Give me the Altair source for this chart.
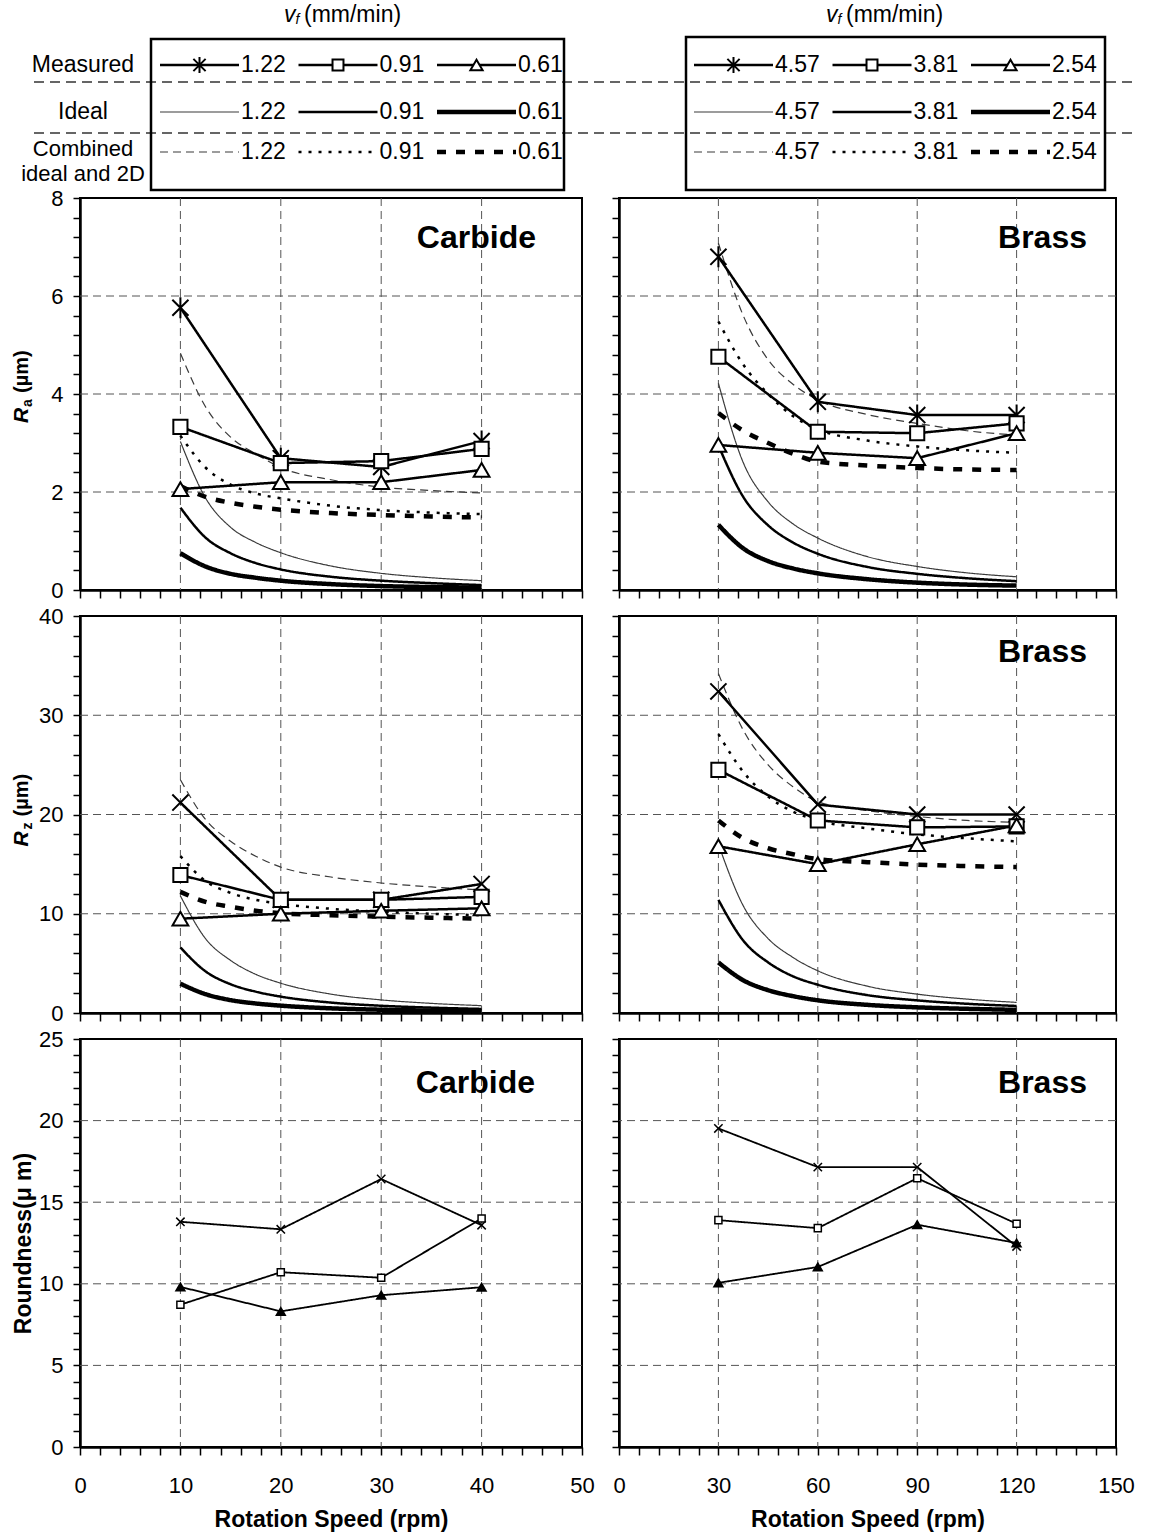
import altair as alt
import pandas as pd

FONT = "Liberation Sans"

# ---------------- data ----------------
carbide_rpm = [10, 20, 30, 40]
brass_rpm = [30, 60, 90, 120]
carbide_curve_rpm = [10, 12.5, 15, 17.5, 20, 25, 30, 35, 40]
brass_curve_rpm = [30, 37.5, 45, 52.5, 60, 75, 90, 105, 120]
carbide_feeds = ["1.22", "0.91", "0.61"]
brass_feeds = ["4.57", "3.81", "2.54"]
row_kinds = ["Measured", "Ideal", "Combined\nideal and 2D"]

# Ra, carbide tool (measured / ideal / combined ideal and 2D), feeds 1.22, 0.91, 0.61
ra_c_meas = [[5.76, 2.69, 2.51, 3.04],
             [3.33, 2.59, 2.63, 2.88],
             [2.06, 2.20, 2.20, 2.45]]
ra_c_ideal = [[3.03, 1.88, 1.28, 0.97, 0.76, 0.49, 0.34, 0.25, 0.19],
              [1.68, 1.07, 0.75, 0.55, 0.42, 0.27, 0.19, 0.14, 0.10],
              [0.75, 0.48, 0.33, 0.25, 0.19, 0.12, 0.08, 0.06, 0.05]]
ra_c_comb = [[4.83, 3.74, 3.12, 2.78, 2.50, 2.25, 2.10, 2.03, 1.98],
             [3.15, 2.50, 2.15, 1.97, 1.87, 1.72, 1.63, 1.58, 1.55],
             [2.12, 1.90, 1.78, 1.70, 1.64, 1.57, 1.53, 1.50, 1.48]]

# Ra, brass tool, feeds 4.57, 3.81, 2.54
ra_b_meas = [[6.80, 3.84, 3.57, 3.57],
             [4.76, 3.23, 3.20, 3.40],
             [2.96, 2.80, 2.69, 3.20]]
ra_b_ideal = [[4.22, 2.60, 1.80, 1.35, 1.06, 0.68, 0.48, 0.35, 0.27],
              [2.95, 1.90, 1.32, 0.97, 0.74, 0.47, 0.33, 0.24, 0.18],
              [1.33, 0.85, 0.59, 0.44, 0.34, 0.22, 0.15, 0.11, 0.09]]
ra_b_comb = [[7.08, 5.60, 4.70, 4.20, 3.88, 3.58, 3.40, 3.25, 3.16],
             [5.48, 4.60, 4.00, 3.55, 3.28, 3.05, 2.93, 2.85, 2.80],
             [3.61, 3.25, 3.00, 2.78, 2.62, 2.54, 2.49, 2.46, 2.45]]

# Rz, carbide tool
rz_c_meas = [[21.2, 11.4, 11.4, 13.0],
             [13.9, 11.4, 11.4, 11.7],
             [9.5, 10.0, 10.3, 10.55]]
rz_c_ideal = [[11.8, 7.5, 5.3, 3.9, 3.0, 1.9, 1.32, 0.97, 0.74],
              [6.6, 4.2, 2.9, 2.15, 1.65, 1.05, 0.73, 0.54, 0.41],
              [2.95, 1.9, 1.3, 0.96, 0.74, 0.47, 0.33, 0.24, 0.18]]
rz_c_comb = [[23.5, 19.5, 17.3, 15.8, 14.7, 13.7, 13.1, 12.7, 12.4],
             [15.8, 13.3, 12.1, 11.4, 11.0, 10.5, 10.2, 10.0, 9.85],
             [12.2, 11.2, 10.7, 10.3, 10.05, 9.85, 9.7, 9.6, 9.5]]

# Rz, brass tool
rz_b_meas = [[32.4, 21.0, 20.0, 20.0],
             [24.5, 19.4, 18.7, 18.8],
             [16.8, 15.0, 17.0, 18.9]]
rz_b_ideal = [[17.0, 10.8, 7.5, 5.6, 4.25, 2.7, 1.9, 1.4, 1.07],
              [11.4, 7.3, 5.1, 3.7, 2.85, 1.8, 1.27, 0.93, 0.71],
              [5.1, 3.3, 2.3, 1.7, 1.28, 0.82, 0.57, 0.42, 0.32]]
rz_b_comb = [[34.2, 28.5, 25.0, 22.8, 21.3, 20.4, 19.8, 19.4, 19.2],
             [28.1, 24.3, 21.8, 20.3, 19.4, 18.6, 18.0, 17.6, 17.3],
             [19.4, 17.6, 16.6, 16.0, 15.5, 15.2, 14.95, 14.8, 14.7]]

# Roundness
rd_c = [[13.8, 13.34, 16.42, 13.59],
        [8.72, 10.71, 10.37, 14.0],
        [9.81, 8.31, 9.30, 9.79]]
rd_b = [[19.52, 17.15, 17.15, 12.29],
        [13.9, 13.41, 16.47, 13.68],
        [10.06, 11.03, 13.62, 12.5]]

# major grid positions
x_grid_carbide = [10, 20, 30, 40]
x_grid_brass = [30, 60, 90, 120]
y_grid_ra = [2, 4, 6]
y_grid_rz = [10, 20, 30]
y_grid_rd = [5, 10, 15, 20]

# ---------------- styles ----------------
LINE_KEYS = ["meas_0", "meas_1", "meas_2", "ideal_0", "ideal_1", "ideal_2",
             "comb_0", "comb_1", "comb_2", "rd_0", "rd_1", "rd_2"]
LINE_COLORS = ["black"] * 3 + ["#3a3a3a", "black", "black"] + ["#3a3a3a", "black", "black"] + ["black"] * 3
LINE_WIDTHS = [2.5] * 3 + [1.2, 2.5, 4.5] + [1.2, 2.5, 4.5] + [1.8] * 3
LINE_DASHES = [[1, 0]] * 6 + [[8, 5], [3, 7], [9, 10]] + [[1, 0]] * 3

color_scale = alt.Scale(domain=LINE_KEYS, range=LINE_COLORS)
width_scale = alt.Scale(type="ordinal", domain=LINE_KEYS, range=LINE_WIDTHS)
dash_scale = alt.Scale(domain=LINE_KEYS, range=LINE_DASHES)

ASTERISK = "M-1,-1L1,1M-1,1L1,-1M0,-1.3L0,1.3"
XMARK = "M-1,-1L1,1M-1,1L1,-1"
MARK_KEYS = ["ra_0", "ra_1", "ra_2", "rz_0", "rz_1", "rz_2",
             "rd_0", "rd_1", "rd_2", "lg_0", "lg_1", "lg_2"]
MARK_SHAPES = [ASTERISK, "square", "triangle-up", XMARK, "square", "triangle-up",
               XMARK, "square", "triangle-up", ASTERISK, "square", "triangle-up"]
MARK_SIZES = [260, 200, 250, 260, 200, 250, 70, 50, 80, 150, 120, 150]
MARK_FILLS = ["white"] * 8 + ["black"] + ["white"] * 3

shape_scale = alt.Scale(domain=MARK_KEYS, range=MARK_SHAPES)
size_scale = alt.Scale(type="ordinal", domain=MARK_KEYS, range=MARK_SIZES)
fill_scale = alt.Scale(domain=MARK_KEYS, range=MARK_FILLS)

GRID_DASH = [8, 5]
GRID_COLOR = "#555555"


def ticks(maxv, step):
    n = int(round(maxv / step))
    return [round(i * step, 3) for i in range(n + 1)]


def major_expr(major):
    return (f"abs(datum.value/{major} - round(datum.value/{major})) < 0.001 "
            f"? format(datum.value, 'd') : ''")


def line_encoding(xs, ys, xaxis, yaxis):
    return dict(
        x=alt.X("x:Q", scale=xs, axis=xaxis),
        y=alt.Y("y:Q", scale=ys, axis=yaxis),
        color=alt.Color("key:N", scale=color_scale, legend=None),
        strokeWidth=alt.StrokeWidth("key:N", scale=width_scale, legend=None),
        strokeDash=alt.StrokeDash("key:N", scale=dash_scale, legend=None),
        order=alt.Order("x:Q"),
    )


def rot_title(sub, H, offs):
    layers = []
    parts = [("R", 21, "bold", "italic", 0, offs[0]),
             (sub, 14, "bold", "normal", 6, offs[1]),
             ("(µm)", 20, "bold", "normal", 0, offs[2])]
    for txt, fs, fw, fst, dx, dy in parts:
        layers.append(
            alt.Chart(pd.DataFrame({"t": [txt]})).mark_text(
                angle=270, align="left", baseline="middle", font=FONT,
                fontSize=fs, fontWeight=fw, fontStyle=fst, color="black"
            ).encode(text="t:N", x=alt.value(-58 + dx), y=alt.value(H / 2 + dy))
        )
    return layers


def panel(mprefix, meas_x, meas, curve_x, ideal, comb, xmax, xstep, xmajor, xgrid,
          ymax, ystep, ymajor, ygrid, W, H, show_xlabels, show_ylabels,
          xtitle=None, ytitle=None, tag=None, tag_right=0, tag_y=0, title_layers=None):
    xs = alt.Scale(domain=[0, xmax], nice=False, zero=False)
    ys = alt.Scale(domain=[0, ymax], nice=False, zero=False)
    xaxis = alt.Axis(values=ticks(xmax, xstep), grid=False, labels=show_xlabels,
                     labelExpr=major_expr(xmajor), tickSize=8, labelPadding=20,
                     labelFlush=False, labelOverlap=False, title=xtitle, titlePadding=12)
    yaxis = alt.Axis(values=ticks(ymax, ystep), grid=False, labels=show_ylabels,
                     labelExpr=major_expr(ymajor), tickSize=7, labelPadding=10,
                     labelFlush=False, labelOverlap=False, title=ytitle, titlePadding=3)

    layers = []
    gx = alt.Chart(pd.DataFrame({"x": xgrid})).mark_rule(
        color=GRID_COLOR, strokeWidth=1, strokeDash=GRID_DASH
    ).encode(x=alt.X("x:Q", scale=xs, axis=xaxis))
    gy = alt.Chart(pd.DataFrame({"y": ygrid})).mark_rule(
        color=GRID_COLOR, strokeWidth=1, strokeDash=GRID_DASH
    ).encode(y=alt.Y("y:Q", scale=ys, axis=yaxis))
    layers += [gx, gy]

    if ideal is not None:
        rows = []
        for i in range(3):
            for xv, yv in zip(curve_x, ideal[i]):
                rows.append({"x": xv, "y": yv, "key": f"ideal_{i}"})
            for xv, yv in zip(curve_x, comb[i]):
                rows.append({"x": xv, "y": yv, "key": f"comb_{i}"})
        layers.append(
            alt.Chart(pd.DataFrame(rows)).mark_line(interpolate="monotone", strokeCap="butt")
            .encode(**line_encoding(xs, ys, xaxis, yaxis))
        )

    lkey = "rd" if mprefix == "rd" else "meas"
    rows = []
    prow = []
    for i in range(3):
        for xv, yv in zip(meas_x, meas[i]):
            rows.append({"x": xv, "y": yv, "key": f"{lkey}_{i}"})
            prow.append({"x": xv, "y": yv, "mk": f"{mprefix}_{i}"})
    layers.append(
        alt.Chart(pd.DataFrame(rows)).mark_line(interpolate="linear")
        .encode(**line_encoding(xs, ys, xaxis, yaxis))
    )
    layers.append(
        alt.Chart(pd.DataFrame(prow)).mark_point(
            filled=False, stroke="black", strokeWidth=1.5 if mprefix == "rd" else 2,
            opacity=1, fillOpacity=1
        ).encode(
            x=alt.X("x:Q", scale=xs, axis=xaxis),
            y=alt.Y("y:Q", scale=ys, axis=yaxis),
            shape=alt.Shape("mk:N", scale=shape_scale, legend=None),
            fill=alt.Fill("mk:N", scale=fill_scale, legend=None),
            size=alt.Size("mk:N", scale=size_scale, legend=None),
        )
    )
    if tag:
        layers.append(
            alt.Chart(pd.DataFrame({"tag": [tag]})).mark_text(
                align="right", baseline="middle", font=FONT, fontSize=32,
                fontWeight="bold", color="black"
            ).encode(text="tag:N", x=alt.value(W - tag_right), y=alt.value(tag_y))
        )
    if title_layers:
        layers += title_layers
    return alt.layer(*layers).properties(width=W, height=H)


WL, WR = 502, 497
H1, H2, H3 = 392, 397, 408
LEG_H = 172

ra_c = panel("ra", carbide_rpm, ra_c_meas, carbide_curve_rpm, ra_c_ideal, ra_c_comb,
             50, 2, 10, x_grid_carbide, 8, 0.4, 2, y_grid_ra, WL, H1, False, True,
             tag="Carbide", tag_right=46, tag_y=40,
             title_layers=rot_title("a", H1, (29, 13, -1)))
ra_b = panel("ra", brass_rpm, ra_b_meas, brass_curve_rpm, ra_b_ideal, ra_b_comb,
             150, 6, 30, x_grid_brass, 8, 0.4, 2, y_grid_ra, WR, H1, False, False,
             tag="Brass", tag_right=29, tag_y=40)
rz_c = panel("rz", carbide_rpm, rz_c_meas, carbide_curve_rpm, rz_c_ideal, rz_c_comb,
             50, 2, 10, x_grid_carbide, 40, 2, 10, y_grid_rz, WL, H2, False, True,
             title_layers=rot_title("z", H2, (32, 15, 2)))
rz_b = panel("rz", brass_rpm, rz_b_meas, brass_curve_rpm, rz_b_ideal, rz_b_comb,
             150, 6, 30, x_grid_brass, 40, 2, 10, y_grid_rz, WR, H2, False, False,
             tag="Brass", tag_right=29, tag_y=36)
rd_cp = panel("rd", carbide_rpm, rd_c, None, None, None,
              50, 2, 10, x_grid_carbide, 25, 1, 5, y_grid_rd, WL, H3, True, True,
              xtitle="Rotation Speed (rpm)", ytitle="Roundness(μ m)",
              tag="Carbide", tag_right=47, tag_y=44)
rd_bp = panel("rd", brass_rpm, rd_b, None, None, None,
              150, 6, 30, x_grid_brass, 25, 1, 5, y_grid_rd, WR, H3, True, False,
              xtitle="Rotation Speed (rpm)", tag="Brass", tag_right=29, tag_y=44)


# ---------------- custom legend (two boxes) ----------------
LEG_ROW_Y = [65, 112, 152]
LEG_COL_DX = 138.5
LEG_LINE_LEN = 79


def legend_chart(feeds, W, box, x0, title_x, with_rows):
    lx = alt.Scale(domain=[0, W], nice=False, zero=False)
    ly = alt.Scale(domain=[0, LEG_H], nice=False, zero=False, reverse=True)
    X = lambda f: alt.X(f, scale=lx, axis=None)
    Y = lambda f: alt.Y(f, scale=ly, axis=None)
    layers = []
    if with_rows:
        sep = pd.DataFrame({"x0": [-46, -46], "x1": [1052, 1052], "y": [82, 133]})
        layers.append(alt.Chart(sep).mark_rule(color="#333333", strokeWidth=1.5, strokeDash=[10, 6])
                      .encode(x=X("x0:Q"), x2="x1:Q", y=Y("y:Q")))
        lab = pd.DataFrame({"t": row_kinds[:2], "x": [3, 3], "y": [65, 112]})
        layers.append(alt.Chart(lab).mark_text(
            align="center", baseline="middle", font=FONT, fontSize=23,
            color="black").encode(x=X("x:Q"), y=Y("y:Q"), text="t:N"))
        lab2 = pd.DataFrame({"t": [row_kinds[2]], "x": [3], "y": [149]})
        layers.append(alt.Chart(lab2).mark_text(
            align="center", baseline="middle", font=FONT, fontSize=22, lineBreak="\n",
            lineHeight=25, color="black").encode(x=X("x:Q"), y=Y("y:Q"), text="t:N"))
    bx = pd.DataFrame({"x0": [box[0]], "x1": [box[1]], "y0": [box[2]], "y1": [box[3]]})
    layers.append(alt.Chart(bx).mark_rect(fillOpacity=0, stroke="black", strokeWidth=2.5)
                  .encode(x=X("x0:Q"), x2="x1:Q", y=Y("y0:Q"), y2="y1:Q"))
    # title  v_f (mm/min)
    for txt, dx, dy, fs, fst in [("v", 0, 0, 23, "italic"), ("f", 11.5, 5, 14, "italic"),
                                 ("(mm/min)", 20, 0, 23, "normal")]:
        layers.append(alt.Chart(pd.DataFrame({"t": [txt], "x": [title_x + dx], "y": [15 + dy]}))
                      .mark_text(align="left", baseline="middle", font=FONT, fontSize=fs,
                                 fontStyle=fst, color="black")
                      .encode(x=X("x:Q"), y=Y("y:Q"), text="t:N"))
    rows = []
    for c, feed in enumerate(feeds):
        start = x0 + LEG_COL_DX * c
        for r, kind in enumerate(["meas", "ideal", "comb"]):
            rows.append({"x0": start, "x1": start + LEG_LINE_LEN, "xm": start + LEG_LINE_LEN / 2,
                         "xl": start + LEG_LINE_LEN + 2, "y": LEG_ROW_Y[r],
                         "key": f"{kind}_{c}", "mk": f"lg_{c}", "kind": kind, "label": feed})
    ent = pd.DataFrame(rows)
    layers.append(alt.Chart(ent).mark_rule(strokeCap="butt").encode(
        x=X("x0:Q"), x2="x1:Q", y=Y("y:Q"),
        color=alt.Color("key:N", scale=color_scale, legend=None),
        strokeWidth=alt.StrokeWidth("key:N", scale=width_scale, legend=None),
        strokeDash=alt.StrokeDash("key:N", scale=dash_scale, legend=None)))
    layers.append(alt.Chart(ent[ent["kind"] == "meas"]).mark_point(
        filled=False, stroke="black", strokeWidth=2, opacity=1, fillOpacity=1).encode(
        x=X("xm:Q"), y=Y("y:Q"),
        shape=alt.Shape("mk:N", scale=shape_scale, legend=None),
        fill=alt.Fill("mk:N", scale=fill_scale, legend=None),
        size=alt.Size("mk:N", scale=size_scale, legend=None)))
    layers.append(alt.Chart(ent).mark_text(
        align="left", baseline="middle", font=FONT, fontSize=23, color="black").encode(
        x=X("xl:Q"), y=Y("y:Q"), text="label:N"))
    return alt.layer(*layers).properties(
        width=W, height=LEG_H, view=alt.ViewBackground(strokeOpacity=0, strokeWidth=0))


leg_l = legend_chart(carbide_feeds, WL, (71, 484, 39, 190), 80, 204, True)
leg_r = legend_chart(brass_feeds, WR, (67, 486, 37, 190), 75, 207, False)

chart = alt.concat(
    leg_l, leg_r, ra_c, ra_b, rz_c, rz_b, rd_cp, rd_bp,
    columns=2, spacing={"row": 26, "column": 37}, bounds="flush"
).properties(
    padding={"left": 10, "top": 0, "right": 10, "bottom": 5}
).configure(
    font=FONT, background="white"
).configure_view(
    stroke="black", strokeWidth=2
).configure_axis(
    domainColor="black", domainWidth=2.5, tickColor="black", tickWidth=1.5,
    labelColor="black", labelFont=FONT, labelFontSize=22,
    titleFont=FONT, titleFontSize=23, titleFontWeight="bold", titleColor="black"
)

chart.save("out.html", embed_options={"renderer": "svg", "actions": False})
